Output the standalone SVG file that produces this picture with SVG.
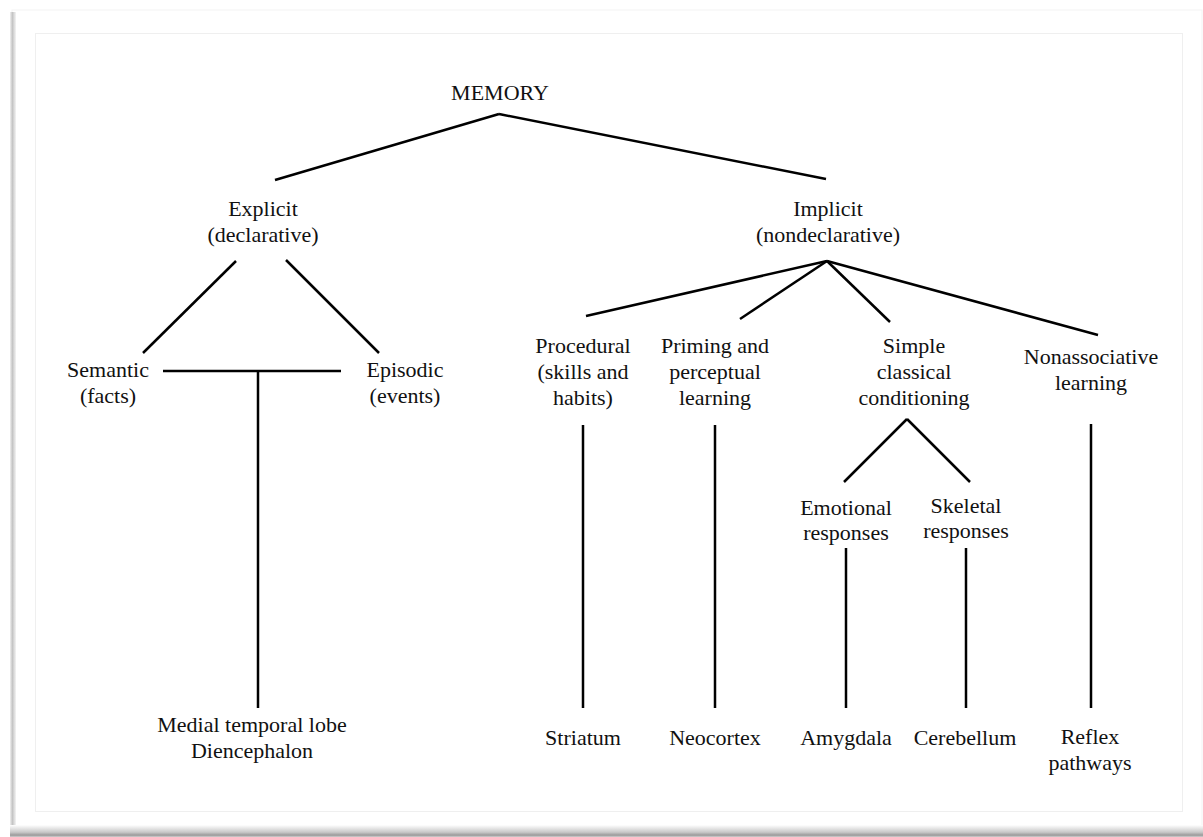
<svg xmlns="http://www.w3.org/2000/svg" width="1203" height="837" viewBox="0 0 1203 837">
<defs>
<linearGradient id="shB" x1="0" y1="0" x2="0" y2="1">
<stop offset="0" stop-color="#ffffff"/>
<stop offset="0.6" stop-color="#c8c8c8"/>
<stop offset="0.85" stop-color="#9a9a9a"/>
<stop offset="1" stop-color="#d0d0d0"/>
</linearGradient>
<linearGradient id="shL" x1="0" y1="0" x2="1" y2="0">
<stop offset="0" stop-color="#f0f0f0"/>
<stop offset="0.4" stop-color="#c4c4c4"/>
<stop offset="1" stop-color="#f4f4f4"/>
</linearGradient>
<style>
.t{font-family:"Liberation Serif","Times New Roman",serif;font-size:22px;fill:#111;text-anchor:middle}
.c line{stroke:#000;stroke-width:2.5;stroke-linecap:butt}
</style>
</defs>
<rect x="0" y="0" width="1203" height="837" fill="#fff"/>
<g id="frame">
<rect x="12" y="10" width="1190" height="818" fill="#fff" stroke="#f3f3f3" stroke-width="1"/>
<rect x="10" y="12" width="6" height="818" fill="url(#shL)"/>
<rect x="10" y="825" width="1193" height="12" fill="url(#shB)"/>
<rect x="35.5" y="33.5" width="1147" height="778" fill="none" stroke="#efefef" stroke-width="1"/>
</g>
<g id="connectors" class="c">
<line x1="499" y1="114" x2="275" y2="180"/>
<line x1="499" y1="114" x2="826" y2="179"/>
<line x1="236" y1="261" x2="143" y2="353"/>
<line x1="286" y1="260" x2="379" y2="353"/>
<line x1="163" y1="371" x2="341" y2="371"/>
<line x1="258" y1="371" x2="258" y2="708"/>
<line x1="827" y1="261" x2="586" y2="316"/>
<line x1="827" y1="261" x2="740" y2="319"/>
<line x1="827" y1="261" x2="890" y2="322"/>
<line x1="827" y1="261" x2="1098" y2="335"/>
<line x1="583" y1="425" x2="583" y2="708"/>
<line x1="715" y1="425" x2="715" y2="708"/>
<line x1="1091" y1="424" x2="1091" y2="708"/>
<line x1="907" y1="419" x2="844" y2="482"/>
<line x1="907" y1="419" x2="970" y2="482"/>
<line x1="846" y1="548" x2="846" y2="708"/>
<line x1="966" y1="548" x2="966" y2="708"/>
</g>
<g id="memory"><text class="t" x="500" y="100">MEMORY</text></g>
<g id="explicit"><text class="t" x="263" y="216">Explicit</text><text class="t" x="263" y="242">(declarative)</text></g>
<g id="implicit"><text class="t" x="828" y="216">Implicit</text><text class="t" x="828" y="242">(nondeclarative)</text></g>
<g id="semantic"><text class="t" x="108" y="377">Semantic</text><text class="t" x="108" y="403">(facts)</text></g>
<g id="episodic"><text class="t" x="405" y="377">Episodic</text><text class="t" x="405" y="403">(events)</text></g>
<g id="mtl"><text class="t" x="252" y="732">Medial temporal lobe</text><text class="t" x="252" y="758">Diencephalon</text></g>
<g id="procedural"><text class="t" x="583" y="353">Procedural</text><text class="t" x="583" y="379">(skills and</text><text class="t" x="583" y="405">habits)</text></g>
<g id="priming"><text class="t" x="715" y="353">Priming and</text><text class="t" x="715" y="379">perceptual</text><text class="t" x="715" y="405">learning</text></g>
<g id="simple"><text class="t" x="914" y="353">Simple</text><text class="t" x="914" y="379">classical</text><text class="t" x="914" y="405">conditioning</text></g>
<g id="nonassociative"><text class="t" x="1091" y="364">Nonassociative</text><text class="t" x="1091" y="390">learning</text></g>
<g id="emotional"><text class="t" x="846" y="515">Emotional</text><text class="t" x="846" y="540">responses</text></g>
<g id="skeletal"><text class="t" x="966" y="513">Skeletal</text><text class="t" x="966" y="538">responses</text></g>
<g id="striatum"><text class="t" x="583" y="745">Striatum</text></g>
<g id="neocortex"><text class="t" x="715" y="745">Neocortex</text></g>
<g id="amygdala"><text class="t" x="846" y="745">Amygdala</text></g>
<g id="cerebellum"><text class="t" x="965" y="745">Cerebellum</text></g>
<g id="reflex"><text class="t" x="1090" y="744">Reflex</text><text class="t" x="1090" y="770">pathways</text></g>
</svg>
